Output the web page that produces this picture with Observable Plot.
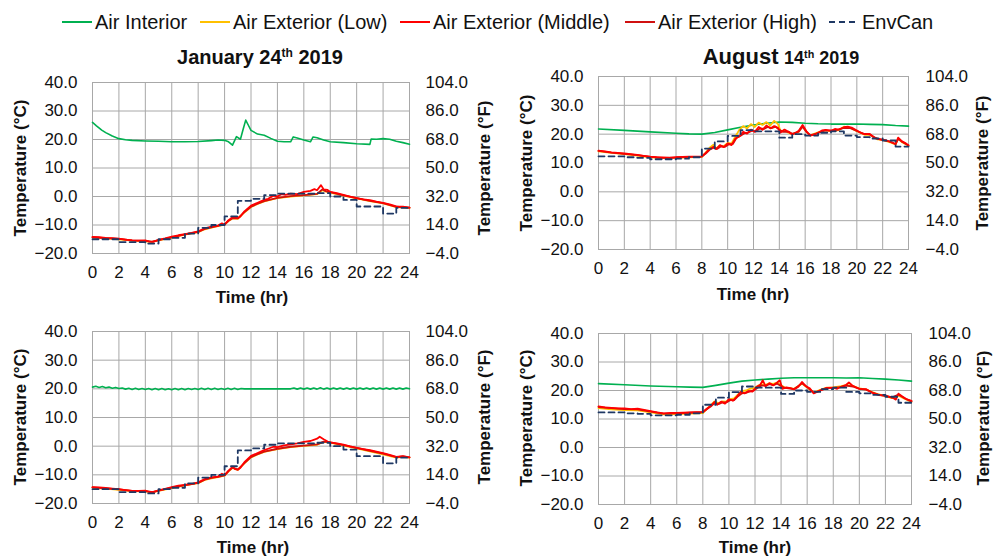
<!DOCTYPE html>
<html>
<head>
<meta charset="utf-8">
<script src="https://cdn.jsdelivr.net/npm/d3@7"></script>
<script src="https://cdn.jsdelivr.net/npm/@observablehq/plot@0.6"></script>
<style>
  html, body { margin: 0; padding: 0; background: #fff; }
  #chart { position: relative; width: 994px; height: 558px; font-family: "Liberation Sans", Arial, sans-serif; color: #111; overflow: hidden; }
  .abs { position: absolute; white-space: nowrap; }
  .center { transform: translate(-50%, -50%); }
  .rot { transform: translate(-50%, -50%) rotate(-90deg); }
  .axlab { font-size: 17px; font-weight: bold; }
  .title { font-size: 20px; font-weight: bold; }
  .leg { font-size: 20px; }
  sup { font-size: 0.6em; vertical-align: 0.55em; line-height: 0; }
  svg.panel { position: absolute; }
</style>
</head>
<body>
<div id="chart"></div>
<script>
// ---------- tick values and labels ----------
const hourTicks = [0, 2, 4, 6, 8, 10, 12, 14, 16, 18, 20, 22, 24];
const celsiusTicks = [-20, -10, 0, 10, 20, 30, 40];
const celsiusLabels = ["−20.0", "−10.0", "0.0", "10.0", "20.0", "30.0", "40.0"];
const fahrenheitLabels = ["−4.0", "14.0", "32.0", "50.0", "68.0", "86.0", "104.0"];

// ---------- series ----------
const seriesNames = ["Air Interior", "Air Exterior (Low)", "Air Exterior (Middle)", "Air Exterior (High)", "EnvCan"];
const seriesColors = ["#00b050", "#ffc000", "#ff0000", "#d01010", "#1f3864"];

// EnvCan hourly observations (hour 0..24)
const envHours = [0,1,2,3,4,5,6,7,8,9,10,11,12,13,14,15,16,17,18,19,20,21,22,23,24];
const envCanJan = [-15.0,-15.0,-16.0,-16.0,-16.5,-15.0,-14.5,-13.0,-11.0,-10.0,-7.0,-1.5,-0.8,0.5,1.0,1.0,1.0,1.2,0.0,-1.2,-3.5,-3.5,-6.0,-4.0,-4.0];
const envCanAug = [12.3,12.3,12.0,11.8,11.3,11.3,11.5,12.0,15.0,17.5,19.4,21.4,21.0,21.0,18.8,20.0,19.5,20.5,21.0,19.5,19.0,18.5,17.8,15.7,15.7];

// Panel A: January 24th 2019 (top)  [hour, °C]
const janAInterior = [[0,26.0],[0.3,24.8],[0.7,23.3],[1,22.4],[1.5,21.2],[2,20.3],[2.5,19.9],[3,19.7],[4,19.5],[5,19.4],[6,19.2],[7,19.2],[8,19.3],[9,19.6],[9.5,19.8],[10,19.7],[10.3,19.2],[10.6,18.0],[10.9,21.0],[11.2,20.1],[11.4,23.5],[11.6,26.8],[11.8,25.0],[12,23.2],[12.5,21.9],[13,21.5],[13.5,20.4],[14,19.4],[14.5,19.2],[15,19.2],[15.2,20.9],[15.5,20.5],[16,19.8],[16.5,19.2],[16.7,20.9],[17,20.6],[17.5,19.8],[18,19.2],[19,18.9],[20,18.5],[21,18.3],[21.1,20.2],[21.5,20.1],[22,20.3],[22.5,20.1],[23,19.4],[23.5,18.9],[24,18.3]];
const janALow = [[0,-14.4],[1,-14.7],[2,-15.0],[3,-15.5],[4,-15.7],[4.5,-15.9],[5,-15.4],[6,-14.4],[7,-13.4],[8,-12.5],[8.5,-11.5],[9,-10.9],[9.5,-10.4],[10,-9.9],[10.3,-8.6],[10.6,-7.7],[11,-7.8],[11.5,-5.6],[12,-3.7],[12.5,-2.6],[13,-1.7],[14,-0.6],[15,0.0],[16,0.4],[17,0.8],[17.4,2.2],[17.7,1.7],[18,1.4],[19,0.3],[20,-0.7],[21,-1.6],[22,-2.4],[23,-3.7],[24,-4.0]];
const janAMiddle = [[0,-14.2],[0.5,-14.3],[1,-14.5],[1.5,-14.6],[2,-14.8],[2.5,-15.1],[3,-15.4],[3.5,-15.5],[4,-15.4],[4.3,-15.8],[4.6,-15.9],[5,-15.2],[5.5,-14.7],[6,-14.1],[6.5,-13.6],[7,-13.2],[7.5,-12.8],[8,-12.2],[8.5,-11.2],[9,-10.6],[9.5,-10.2],[9.8,-9.4],[10,-9.9],[10.3,-8.3],[10.6,-7.3],[11,-7.6],[11.2,-7.0],[11.5,-5.2],[12,-3.2],[12.5,-2.2],[13,-1.2],[13.3,-0.8],[13.7,0.3],[14,0.0],[14.3,0.8],[14.6,0.6],[15,1.0],[15.5,0.8],[16,1.6],[16.5,2.0],[16.8,2.6],[17,2.2],[17.3,4.0],[17.5,2.5],[17.8,2.3],[18,1.6],[18.5,1.2],[19,0.6],[19.5,0.0],[20,-0.6],[20.5,-1.0],[21,-1.3],[21.5,-1.8],[22,-2.2],[22.5,-2.8],[23,-3.5],[23.5,-3.6],[24,-3.9]];
const janAHigh = [[0,-14.3],[1,-14.6],[2,-14.9],[3,-15.4],[4,-15.6],[4.5,-15.8],[5,-15.3],[6,-14.3],[7,-13.3],[8,-12.4],[8.5,-11.4],[9,-10.8],[9.5,-10.3],[10,-9.8],[10.3,-8.5],[10.6,-7.6],[11,-7.7],[11.5,-5.5],[12,-3.6],[12.5,-2.5],[13,-1.6],[14,-0.5],[15,0.1],[16,0.5],[17,0.9],[17.4,2.5],[17.7,1.8],[18,1.5],[19,0.4],[20,-0.6],[21,-1.5],[22,-2.3],[23,-3.6],[24,-3.9]];

// Panel B: August 14th 2019 (top)
const augBInterior = [[0,21.8],[2,21.3],[4,20.8],[6,20.3],[7,20.1],[8,20.0],[9,20.6],[10,21.5],[11,22.4],[12,23.2],[13,23.8],[14,24.2],[15,24.1],[16,23.8],[17,23.6],[18,23.5],[19,23.5],[20,23.5],[21,23.4],[22,23.3],[23,23.0],[24,22.8]];
const augBLow = [[0,14.0],[1,13.5],[2,13.1],[3,12.6],[4,12.0],[5,11.7],[6,11.8],[7,12.0],[8,12.1],[8.3,13.6],[8.6,15.3],[8.9,16.3],[9.1,15.0],[9.4,16.0],[9.7,15.8],[10,17.0],[10.3,16.8],[10.6,19.2],[10.9,21.5],[11.2,22.8],[11.5,22.0],[11.8,23.5],[12.1,22.5],[12.4,24.0],[12.7,23.2],[13,24.2],[13.3,23.0],[13.6,24.6],[13.9,23.5],[14.1,21.0],[14.4,21.3],[14.7,20.5],[15,20.0],[15.5,20.8],[15.8,22.8],[16.1,20.8],[16.4,19.6],[17,20.6],[17.6,21.3],[18,21.0],[18.6,21.4],[19,22.6],[19.6,22.0],[20,21.0],[20.6,19.8],[21,19.8],[21.6,18.2],[22,18.0],[22.7,17.0],[23,16.4],[23.2,18.5],[23.5,17.2],[24,16.0]];
const augBMiddle = [[0,14.3],[0.5,14.0],[1,13.7],[1.5,13.5],[2,13.3],[2.5,13.1],[3,12.8],[3.5,12.5],[4,12.2],[4.5,12.0],[5,11.9],[5.5,11.8],[6,12.0],[6.5,12.1],[7,12.2],[7.5,12.2],[8,12.3],[8.3,13.5],[8.6,14.8],[8.9,15.6],[9.1,14.8],[9.4,16.2],[9.7,15.5],[10,16.8],[10.3,16.2],[10.6,18.5],[10.9,19.2],[11.2,20.8],[11.5,20.2],[11.8,21.6],[12.1,20.8],[12.4,22.5],[12.7,21.5],[13,23.0],[13.3,22.0],[13.6,22.8],[13.9,22.2],[14.1,20.6],[14.4,21.6],[14.7,20.8],[15,19.9],[15.3,20.5],[15.5,21.2],[15.8,23.2],[16.1,21.0],[16.4,19.5],[16.7,19.8],[17,20.5],[17.3,21.3],[17.6,21.5],[18,21.2],[18.3,21.8],[18.6,21.6],[19,22.4],[19.3,22.6],[19.6,22.3],[20,21.3],[20.3,20.5],[20.6,20.0],[21,20.1],[21.3,19.0],[21.6,18.4],[22,18.0],[22.3,17.8],[22.7,17.2],[23,16.5],[23.2,18.8],[23.5,17.5],[23.8,16.8],[24,16.2]];
const augBHigh = [[0,14.2],[1,13.6],[2,13.2],[3,12.7],[4,12.1],[5,11.8],[6,11.9],[7,12.1],[8,12.2],[8.3,13.3],[8.6,14.6],[8.9,15.3],[9.2,14.9],[9.5,15.8],[9.8,15.6],[10.1,16.5],[10.4,16.6],[10.7,18.8],[11,19.5],[11.3,20.3],[11.6,20.6],[11.9,21.2],[12.2,21.0],[12.5,22.0],[12.8,21.8],[13.1,22.5],[13.4,22.1],[13.7,22.6],[14,21.5],[14.3,20.8],[14.7,20.9],[15,20.1],[15.5,20.9],[15.8,22.6],[16.1,20.8],[16.4,19.6],[17,20.4],[17.5,21.2],[18,21.2],[18.5,21.5],[19,22.2],[19.5,22.1],[20,21.1],[20.5,20.2],[21,19.9],[21.5,18.5],[22,18.0],[22.5,17.5],[23,16.6],[23.2,18.4],[23.5,17.4],[24,16.1]];

// Panel C: January 24th 2019 (bottom)
const janCInterior = [[0,20.6],[0.25,20.9],[0.5,20.5],[0.75,20.8],[1,20.4],[1.25,20.6],[1.5,20.2],[1.75,20.5],[2,20.1],[2.25,20.3],[2.5,19.9],[2.75,20.2],[3,19.8],[3.25,20.2],[3.5,19.8],[3.75,20.1],[4,19.8],[4.25,20.1],[4.5,19.7],[4.75,20.1],[5,19.7],[5.25,20.1],[5.5,19.7],[5.75,20.0],[6,19.7],[6.25,20.1],[6.5,19.7],[6.75,20.1],[7,19.7],[7.25,20.1],[7.5,19.8],[7.75,20.1],[8,19.8],[8.25,20.2],[8.5,19.8],[8.75,20.2],[9,19.8],[9.25,20.2],[9.5,19.8],[9.75,20.1],[10,19.8],[10.25,20.2],[10.5,19.8],[10.75,20.2],[11,19.8],[11.25,20.1],[11.5,20.0],[12.5,20.0],[13.5,20.0],[15,20.0],[15.25,20.3],[15.5,19.9],[15.75,20.3],[16,19.9],[16.25,20.3],[16.5,19.9],[16.75,20.3],[17,19.9],[17.25,20.4],[17.5,19.9],[17.75,20.3],[18,19.9],[18.25,20.3],[18.5,19.9],[18.75,20.3],[19,19.9],[19.25,20.3],[19.5,19.9],[19.75,20.3],[20,19.9],[20.25,20.3],[20.5,19.9],[20.75,20.3],[21,19.9],[21.25,20.3],[21.5,19.9],[21.75,20.3],[22,19.9],[22.25,20.3],[22.5,19.9],[22.75,20.3],[23,19.9],[23.25,20.3],[23.5,19.9],[23.75,20.3],[24,20.0]];
const janCLow = [[0,-14.5],[1,-14.8],[2,-15.2],[3,-15.7],[4,-15.8],[4.5,-16.1],[5,-15.6],[6,-14.6],[7,-13.7],[8,-12.9],[8.5,-11.8],[9,-11.2],[9.5,-10.8],[10,-10.3],[10.3,-8.8],[10.6,-7.6],[11,-8.3],[11.5,-6.0],[12,-3.9],[12.5,-2.9],[13,-2.0],[14,-1.0],[15,-0.3],[16,0.1],[17,0.5],[17.5,1.5],[18,1.2],[19,0.2],[20,-0.8],[21,-1.8],[22,-2.9],[23,-4.0],[23.5,-3.7],[24,-4.0]];
const janCMiddle = [[0,-14.3],[0.5,-14.4],[1,-14.6],[1.5,-14.8],[2,-15.0],[2.5,-15.3],[3,-15.6],[3.5,-15.6],[4,-15.5],[4.3,-15.9],[4.6,-16.0],[5,-15.4],[5.5,-14.9],[6,-14.3],[6.5,-13.8],[7,-13.5],[7.5,-13.2],[8,-12.6],[8.5,-11.5],[9,-10.9],[9.5,-10.6],[9.8,-9.6],[10,-10.1],[10.3,-8.5],[10.6,-7.2],[10.8,-8.0],[11,-8.2],[11.2,-7.5],[11.5,-5.6],[12,-3.4],[12.5,-2.4],[13,-1.4],[13.3,-0.9],[13.7,-0.2],[14,-0.3],[14.5,0.3],[15,0.6],[15.5,1.0],[16,1.5],[16.5,1.8],[16.8,2.3],[17,2.6],[17.2,3.3],[17.5,2.4],[17.8,1.6],[18,1.3],[18.5,1.0],[19,0.5],[19.5,-0.1],[20,-0.6],[20.5,-1.0],[21,-1.4],[21.5,-1.9],[22,-2.4],[22.5,-3.0],[23,-3.7],[23.5,-3.5],[24,-3.9]];
const janCHigh = [[0,-14.4],[1,-14.7],[2,-15.1],[3,-15.6],[4,-15.7],[4.5,-16.0],[5,-15.5],[6,-14.5],[7,-13.6],[8,-12.8],[8.5,-11.7],[9,-11.1],[9.5,-10.7],[10,-10.2],[10.3,-8.7],[10.6,-7.5],[11,-8.2],[11.5,-5.9],[12,-3.8],[12.5,-2.8],[13,-1.9],[14,-0.9],[15,-0.2],[16,0.2],[17,0.6],[17.5,1.6],[18,1.3],[19,0.4],[20,-0.6],[21,-1.6],[22,-2.6],[23,-3.8],[23.5,-3.6],[24,-3.9]];

// Panel D: August 14th 2019 (bottom)
const augDInterior = [[0,22.4],[2,22.0],[4,21.6],[6,21.3],[7,21.2],[8,21.1],[9,21.8],[10,22.6],[11,23.3],[12,23.7],[13,24.0],[14,24.3],[15,24.5],[16,24.5],[17,24.5],[18,24.5],[19,24.4],[20,24.5],[21,24.2],[22,24.0],[23,23.7],[24,23.3]];
const augDLow = [[0,13.8],[1,13.4],[2,13.1],[3,13.0],[4,12.3],[5,11.6],[6,11.7],[7,11.9],[8,12.1],[8.3,13.5],[8.6,14.9],[8.9,16.2],[9.2,15.5],[9.5,16.2],[9.8,16.1],[10.1,17.0],[10.4,17.2],[10.7,18.6],[11,19.8],[11.3,20.0],[11.6,20.6],[11.9,20.8],[12.2,21.6],[12.5,22.2],[12.8,22.0],[13.1,22.5],[13.4,22.3],[13.7,22.8],[14,21.8],[14.3,21.0],[14.7,20.8],[15,20.6],[15.6,22.4],[16,21.0],[16.5,19.3],[17,20.2],[17.5,21.0],[18,21.1],[18.6,21.5],[19,21.9],[19.5,21.6],[20,20.7],[20.5,20.4],[21,19.4],[21.5,18.6],[22,18.0],[22.5,17.3],[23,18.2],[23.5,17.0],[24,16.0]];
const augDMiddle = [[0,14.4],[0.5,14.1],[1,13.9],[1.5,13.7],[2,13.7],[2.5,13.5],[3,13.6],[3.5,13.2],[4,12.8],[4.5,12.3],[5,12.0],[5.5,12.1],[6,12.1],[6.5,12.2],[7,12.3],[7.5,12.4],[8,12.5],[8.3,13.6],[8.6,14.6],[8.9,16.0],[9.1,15.0],[9.4,16.1],[9.7,15.4],[10,17.0],[10.3,16.4],[10.6,17.8],[10.9,19.5],[11.2,19.0],[11.5,19.8],[11.8,19.6],[12.1,21.2],[12.4,22.0],[12.6,23.6],[12.8,21.5],[13.1,22.6],[13.4,21.8],[13.7,22.8],[13.9,23.6],[14.1,20.6],[14.4,21.1],[14.7,20.8],[15,20.4],[15.3,21.2],[15.6,23.0],[15.9,21.5],[16.2,20.8],[16.5,19.0],[16.8,19.6],[17.1,20.2],[17.5,20.9],[18,21.0],[18.3,20.6],[18.6,21.3],[19,22.0],[19.2,22.8],[19.5,21.6],[20,20.6],[20.5,20.5],[21,19.2],[21.5,18.4],[22,18.2],[22.5,17.6],[22.8,16.8],[23,18.9],[23.3,17.9],[23.6,17.0],[24,16.4]];
const augDHigh = [[0,14.2],[1,13.8],[2,13.5],[3,13.4],[4,12.6],[5,11.9],[6,12.0],[7,12.2],[8,12.4],[8.3,13.4],[8.6,14.4],[8.9,15.6],[9.2,15.2],[9.5,15.8],[9.8,15.8],[10.1,16.6],[10.4,16.6],[10.7,18.0],[11,19.0],[11.3,19.2],[11.6,19.7],[11.9,20.0],[12.2,21.0],[12.5,21.8],[12.8,21.6],[13.1,22.2],[13.4,21.9],[13.7,22.4],[14,21.6],[14.3,20.9],[14.7,20.7],[15,20.5],[15.6,22.5],[16,21.2],[16.5,19.2],[17,20.0],[17.5,20.8],[18,20.9],[18.6,21.2],[19,21.7],[19.5,21.4],[20,20.6],[20.5,20.3],[21,19.3],[21.5,18.5],[22,18.1],[22.5,17.5],[23,18.6],[23.5,17.2],[24,16.2]];

// ---------- drawing ----------
const chart = document.getElementById("chart");
const gridColor = "#a8a8a8";
const fLabel = d => fahrenheitLabels[celsiusTicks.indexOf(d)];
const cLabel = d => celsiusLabels[celsiusTicks.indexOf(d)];

function panel(p) {
  const env = envHours.map((h, i) => [h, p.env[i]]);
  const lineOpts = (color, w) => ({x: d => d[0], y: d => d[1], stroke: color, strokeWidth: w, curve: "linear"});
  const svg = Plot.plot({
    width: 497, height: p.height,
    marginLeft: p.ml, marginRight: p.mr, marginTop: p.mt, marginBottom: p.height - p.mt - p.ph,
    x: {domain: [0, 24]},
    y: {domain: [-20, 40]},
    style: {fontFamily: '"Liberation Sans", Arial, sans-serif', fontSize: "17px", color: "#111", background: "transparent", overflow: "visible"},
    marks: [
      Plot.gridX(hourTicks, {stroke: gridColor, strokeOpacity: 1, strokeWidth: 1}),
      Plot.gridY(celsiusTicks, {stroke: gridColor, strokeOpacity: 1, strokeWidth: 1}),
      Plot.frame({stroke: gridColor}),
      Plot.axisX(hourTicks, {tickSize: 0, tickPadding: 12, label: null}),
      Plot.axisY(celsiusTicks, {anchor: "left", tickSize: 0, tickPadding: 15, tickFormat: cLabel, label: null}),
      Plot.axisY(celsiusTicks, {anchor: "right", tickSize: 0, tickPadding: p.rp, tickFormat: fLabel, label: null}),
      Plot.line(p.interior, lineOpts(seriesColors[0], 1.6)),
      Plot.line(p.low, lineOpts(seriesColors[1], 1.8)),
      Plot.line(p.high, lineOpts(seriesColors[3], 1.8)),
      Plot.line(p.middle, lineOpts(seriesColors[2], 1.8)),
      Plot.line(env, {x: d => d[0], y: d => d[1], stroke: seriesColors[4], strokeWidth: 1.8, strokeDasharray: "6,4", curve: "step-after"})
    ]
  });
  svg.classList.add("panel");
  svg.style.left = p.left + "px";
  svg.style.top = p.top + "px";
  chart.appendChild(svg);
}

panel({left: 0,   top: 62,  height: 248, ml: 92,  mr: 88, mt: 20, ph: 171, rp: 16, interior: janAInterior, low: janALow, middle: janAMiddle, high: janAHigh, env: envCanJan});
panel({left: 497, top: 56,  height: 248, ml: 101, mr: 86, mt: 20, ph: 173, rp: 17, interior: augBInterior, low: augBLow, middle: augBMiddle, high: augBHigh, env: envCanAug});
panel({left: 0,   top: 311, height: 247, ml: 92,  mr: 88, mt: 20, ph: 172, rp: 16, interior: janCInterior, low: janCLow, middle: janCMiddle, high: janCHigh, env: envCanJan});
panel({left: 497, top: 313, height: 245, ml: 101, mr: 83, mt: 20, ph: 171, rp: 17, interior: augDInterior, low: augDLow, middle: augDMiddle, high: augDHigh, env: envCanAug});

// ---------- HTML text: axis titles, panel titles, legend ----------
function addText(html, x, y, cls) {
  const d = document.createElement("div");
  d.className = "abs " + cls;
  d.style.left = x + "px";
  d.style.top = y + "px";
  d.innerHTML = html;
  chart.appendChild(d);
}
const axisTitles = [
  ["Time (hr)", 252, 298, "center axlab"], ["Time (hr)", 753, 295, "center axlab"],
  ["Time (hr)", 253, 548, "center axlab"], ["Time (hr)", 755, 548, "center axlab"],
  ["Temperature (°C)", 21, 168, "rot axlab"], ["Temperature (°F)", 485, 168, "rot axlab"],
  ["Temperature (°C)", 527, 163, "rot axlab"], ["Temperature (°F)", 983, 163, "rot axlab"],
  ["Temperature (°C)", 21, 417, "rot axlab"], ["Temperature (°F)", 485, 417, "rot axlab"],
  ["Temperature (°C)", 527, 418, "rot axlab"], ["Temperature (°F)", 984, 418, "rot axlab"]
];
axisTitles.forEach(t => addText(t[0], t[1], t[2], t[3]));
addText("January 24<sup>th</sup> 2019", 260, 57, "center title");
addText('<span style="font-size:22px">August</span> <span style="font-size:18px">14<sup>th</sup> 2019</span>', 781, 57, "center title");

// legend
const legendX = [62, 200, 400, 625, 829];
seriesNames.forEach((name, i) => {
  const item = document.createElement("div");
  item.className = "abs leg";
  item.style.left = legendX[i] + "px";
  item.style.top = "10px";
  item.style.display = "flex";
  item.style.alignItems = "center";
  const dash = i === 4 ? 'stroke-dasharray="6,4"' : "";
  const w = i === 4 ? 2 : 2;
  item.innerHTML = `<svg width="30" height="24" style="margin-right:3px"><line x1="0" x2="30" y1="12" y2="12" stroke="${seriesColors[i]}" stroke-width="${w}" ${dash}/></svg><span>${name}</span>`;
  chart.appendChild(item);
});
</script>
</body>
</html>
